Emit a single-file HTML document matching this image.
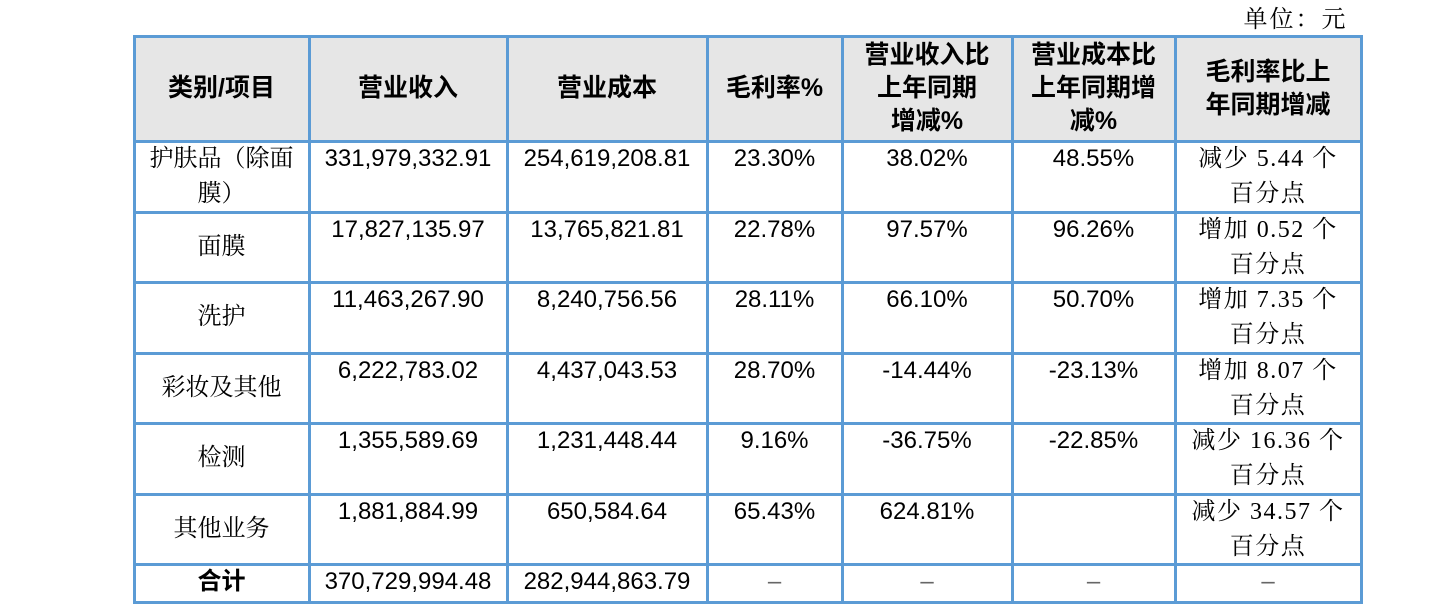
<!DOCTYPE html>
<html><head><meta charset="utf-8"><style>
body{margin:0;width:1447px;height:606px;background:#fff;position:relative;overflow:hidden}
.c{position:absolute;box-sizing:border-box;text-align:center;color:#000}
.n{font-family:"Liberation Sans","Noto Sans CJK SC",sans-serif;font-size:24px;line-height:34px;padding-top:1px}
.s{font-family:"Liberation Serif","Noto Serif CJK SC",serif;font-size:24px;line-height:35px;padding-top:1px}
.h{font-family:"Liberation Sans","Noto Sans CJK SC",sans-serif;font-size:25px;font-weight:bold;line-height:33px;display:flex;align-items:center;justify-content:center;background:#e6e6e6}
.v{position:absolute;background:#5b9bd5;width:3px}
.hr{position:absolute;background:#5b9bd5;height:3px}
.d{color:#666}
</style></head><body>
<div class="c s" style="left:1238px;top:2px;width:115px;letter-spacing:2px">单位：元</div>
<div id="t"></div>
<script>
const X=[134,309,507,707,842,1012,1175,1361];
const Y=[36,141,212,282,353,423,494,564,602];
let h='';
const hd=['类别/项目','营业收入','营业成本','毛利率%','营业收入比<br>上年同期<br>增减%','营业成本比<br>上年同期增<br>减%','毛利率比上<br>年同期增减'];
for(let i=0;i<7;i++)h+=`<div class="c h" style="left:${X[i]}px;top:${Y[0]}px;width:${X[i+1]-X[i]}px;height:${Y[1]-Y[0]}px">${hd[i]}</div>`;
const rows=[
['护肤品（除面<br>膜）','331,979,332.91','254,619,208.81','23.30%','38.02%','48.55%','减少 5.44 个<br>百分点'],
['<br>面膜','17,827,135.97','13,765,821.81','22.78%','97.57%','96.26%','增加 0.52 个<br>百分点'],
['<br>洗护','11,463,267.90','8,240,756.56','28.11%','66.10%','50.70%','增加 7.35 个<br>百分点'],
['<br>彩妆及其他','6,222,783.02','4,437,043.53','28.70%','-14.44%','-23.13%','增加 8.07 个<br>百分点'],
['<br>检测','1,355,589.69','1,231,448.44','9.16%','-36.75%','-22.85%','减少 16.36 个<br>百分点'],
['<br>其他业务','1,881,884.99','650,584.64','65.43%','624.81%','','减少 34.57 个<br>百分点']];
rows.forEach((r,j)=>{r.forEach((t,i)=>{let cls=(i==0||i==6)?'s':'n';let st=(i==0&&j>0)?'margin-top:-18px;':'';if(i==6)st+='letter-spacing:1.5px;';
h+=`<div class="c ${cls}" style="left:${X[i]}px;top:${Y[j+1]}px;width:${X[i+1]-X[i]}px;height:${Y[j+2]-Y[j+1]}px;"><div style="${st}">${t}</div></div>`;});});
const last=['<b style="font-family:\'Liberation Sans\',\'Noto Sans CJK SC\',sans-serif">合计</b>','370,729,994.48','282,944,863.79','<span class="d">–</span>','<span class="d">–</span>','<span class="d">–</span>','<span class="d">–</span>'];
last.forEach((t,i)=>{h+=`<div class="c n" style="left:${X[i]}px;top:${Y[7]}px;width:${X[i+1]-X[i]}px;height:${Y[8]-Y[7]}px;">${t}</div>`;});
X.forEach(x=>h+=`<div class="v" style="left:${x-1}px;top:${Y[0]-1}px;height:${Y[8]-Y[0]+3}px"></div>`);
Y.forEach(y=>h+=`<div class="hr" style="top:${y-1}px;left:${X[0]-1}px;width:${X[7]-X[0]+3}px"></div>`);
document.getElementById('t').innerHTML=h;
</script>
</body></html>
